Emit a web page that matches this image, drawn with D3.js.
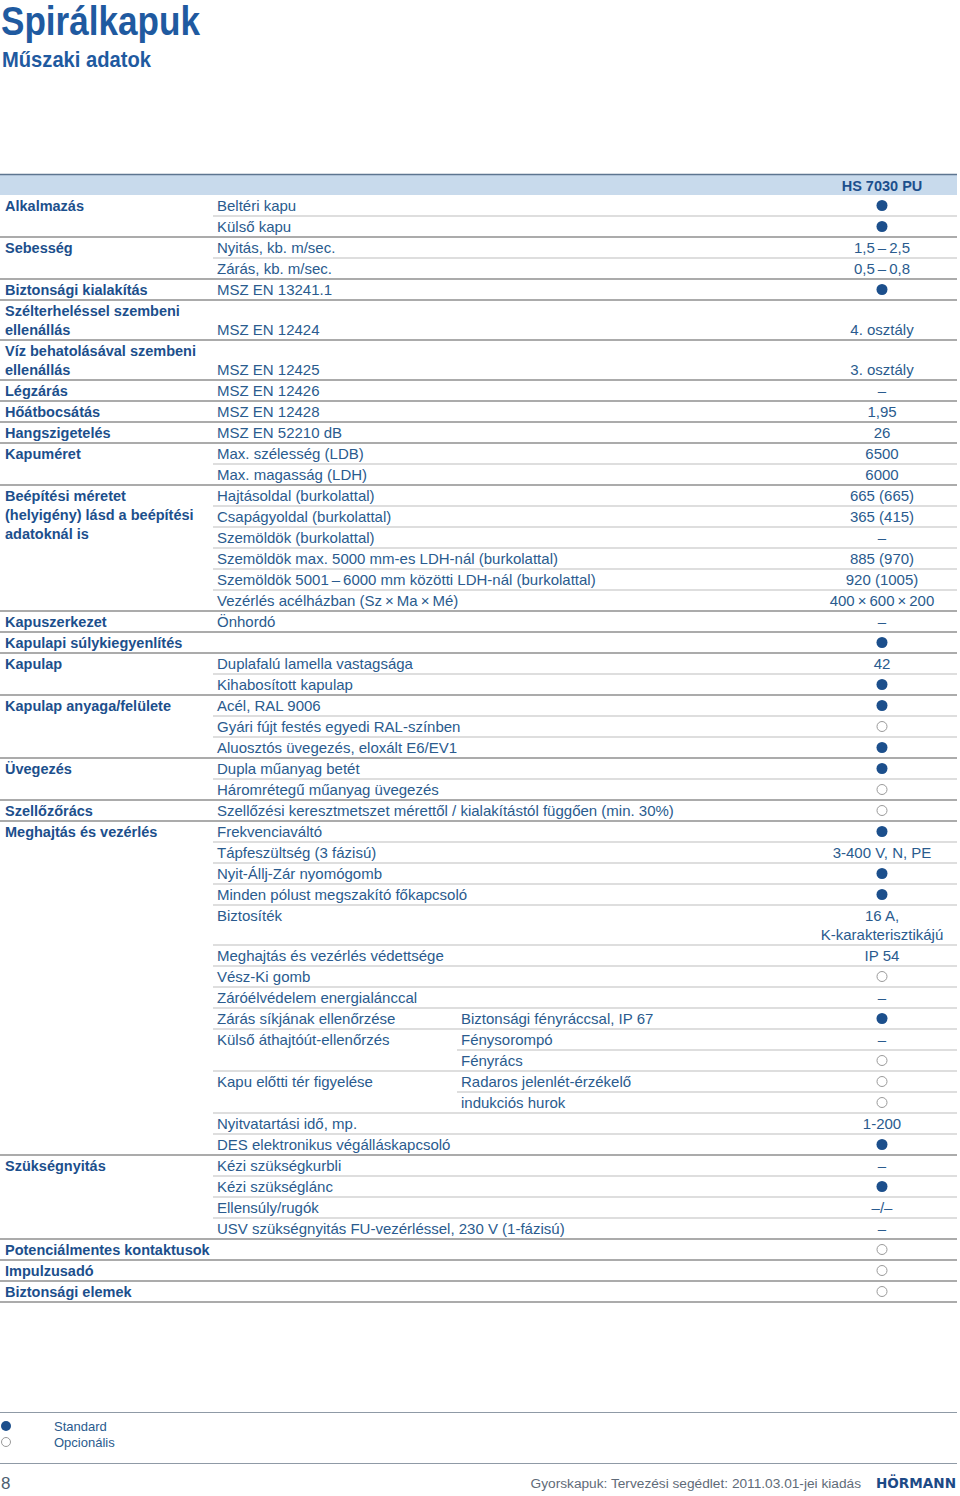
<!DOCTYPE html>
<html><head><meta charset="utf-8">
<script src="https://cdn.jsdelivr.net/npm/d3@7"></script>
<style>html,body{margin:0;padding:0;background:#fff}svg{display:block}</style>
</head><body>
<script>
// ---- data ----
const title = "Spirálkapuk";
const subtitle = "Műszaki adatok";
const productName = "HS 7030 PU";
const groups = ["Alkalmazás","","Sebesség","","Biztonsági kialakítás",
 "Szélterheléssel szembeni\nellenállás","Víz behatolásával szembeni\nellenállás",
 "Légzárás","Hőátbocsátás","Hangszigetelés","Kapuméret","",
 "Beépítési méretet\n(helyigény) lásd a beépítési\nadatoknál is","","","","","",
 "Kapuszerkezet","Kapulapi súlykiegyenlítés","Kapulap","","Kapulap anyaga/felülete","","",
 "Üvegezés","","Szellőzőrács","Meghajtás és vezérlés","","","","","","","","","","","","","","",
 "Szükségnyitás","","","","Potenciálmentes kontaktusok","Impulzusadó","Biztonsági elemek"];
const items = ["Beltéri kapu","Külső kapu","Nyitás, kb. m/sec.","Zárás, kb. m/sec.","MSZ EN 13241.1",
 "\nMSZ EN 12424","\nMSZ EN 12425","MSZ EN 12426","MSZ EN 12428","MSZ EN 52210 dB",
 "Max. szélesség (LDB)","Max. magasság (LDH)","Hajtásoldal (burkolattal)","Csapágyoldal (burkolattal)",
 "Szemöldök (burkolattal)","Szemöldök max. 5000 mm-es LDH-nál (burkolattal)",
 "Szemöldök 5001\u2009–\u20096000 mm közötti LDH-nál (burkolattal)","Vezérlés acélházban (Sz\u2009×\u2009Ma\u2009×\u2009Mé)",
 "Önhordó","","Duplafalú lamella vastagsága","Kihabosított kapulap","Acél, RAL 9006",
 "Gyári fújt festés egyedi RAL-színben","Aluosztós üvegezés, eloxált E6/EV1","Dupla műanyag betét",
 "Háromrétegű műanyag üvegezés","Szellőzési keresztmetszet mérettől / kialakítástól függően (min. 30%)",
 "Frekvenciaváltó","Tápfeszültség (3 fázisú)","Nyit-Állj-Zár nyomógomb","Minden pólust megszakító főkapcsoló",
 "Biztosíték","Meghajtás és vezérlés védettsége","Vész-Ki gomb","Záróélvédelem energialánccal",
 "Zárás síkjának ellenőrzése","Külső áthajtóút-ellenőrzés","","Kapu előtti tér figyelése","",
 "Nyitvatartási idő, mp.","DES elektronikus végálláskapcsoló","Kézi szükségkurbli","Kézi szükséglánc",
 "Ellensúly/rugók","USV szükségnyitás FU-vezérléssel, 230 V (1-fázisú)","","",""];
const subItems = ["","","","","","","","","","","","","","","","","","","","","","","","","","","","","","","","","","","","",
 "Biztonsági fényráccsal, IP 67","Fénysorompó","Fényrács","Radaros jelenlét-érzékelő","indukciós hurok",
 "","","","","","","","",""];
// S = standard (filled dot), O = optional (open dot)
const values = ["S","S","1,5\u2009–\u20092,5","0,5\u2009–\u20090,8","S","\n4. osztály","\n3. osztály","–","1,95","26",
 "6500","6000","665 (665)","365 (415)","–","885 (970)","920 (1005)","400\u2009×\u2009600\u2009×\u2009200",
 "–","S","42","S","S","O","S","S","O","O","S","3-400 V, N, PE","S","S","16 A,\nK-karakterisztikájú",
 "IP 54","O","–","S","–","O","O","O","1-200","S","–","S","–/–","–","O","O","O"];
const lineCounts = values.map((v,i)=> (i===5||i===6||i===32) ? 2 : 1);
const legendKeys = ["S","O"];
const legendLabels = ["Standard","Opcionális"];
const pageNumber = "8";
const footerText = "Gyorskapuk: Tervezési segédlet: 2011.03.01-jei kiadás";
const logoText = "HÖRMANN";

// ---- layout ----
const W = 960, H = 1496;
const blue = "#1c4f8c", textBlue = "#2a5b8e";
const FONT = "'Liberation Sans', Arial, sans-serif";
const tableTop = 195, rowH = 21, rowH2 = 40, lineStep = 19;
const col = {g: 5, item: 217, sub: 461, val: 882, itemLine: 213, subLine: 457, right: 957};
const fsReg = 15, fsBold = 14.5;

const svg = d3.select("body").append("svg").attr("width", W).attr("height", H)
  .style("font-family", FONT);
svg.append("rect").attr("width", W).attr("height", H).attr("fill", "#fff");

svg.append("text").attr("x", 1).attr("y", 35).attr("fill", "#1f5aa0")
  .attr("font-size", 40).attr("font-weight", "bold")
  .attr("textLength", 199).attr("lengthAdjust", "spacingAndGlyphs").text(title);
svg.append("text").attr("x", 2).attr("y", 67).attr("fill", "#1f5aa0")
  .attr("font-size", 22).attr("font-weight", "bold")
  .attr("textLength", 149).attr("lengthAdjust", "spacingAndGlyphs").text(subtitle);

// header band
svg.append("rect").attr("x", 0).attr("y", 175).attr("width", col.right).attr("height", 20).attr("fill", "#c8daec");
svg.append("line").attr("x1", 0).attr("x2", col.right).attr("y1", 174.5).attr("y2", 174.5)
  .attr("stroke", "#5d7590").attr("stroke-width", 1.5);
svg.append("text").attr("x", col.val).attr("y", 190.5).attr("text-anchor", "middle")
  .attr("fill", blue).attr("font-size", fsBold).attr("font-weight", "bold").text(productName);

// rows
const heights = lineCounts.map(n => n === 2 ? rowH2 : rowH);
const tops = [tableTop, ...d3.cumsum(heights).map(h => tableTop + h)];
const rows = values.map((v, i) => ({i, g: groups[i], item: items[i], sub: subItems[i], v, top: tops[i], h: heights[i]}));

const y = d3.scaleLinear().domain([0, 1]).range([0, lineStep]); // line index -> offset

const gRows = svg.append("g");
// separators
rows.forEach(r => {
  if (r.i === 0) return;
  let x1, color, sw;
  if (r.g) { x1 = 0; color = "#8f8f8f"; sw = 1.3; }
  else if (r.item) { x1 = col.itemLine; color = "#bdbdbd"; sw = 1; }
  else { x1 = col.subLine; color = "#bdbdbd"; sw = 1; }
  gRows.append("line").attr("x1", x1).attr("x2", col.right).attr("y1", r.top).attr("y2", r.top)
    .attr("stroke", color).attr("stroke-width", sw);
});
gRows.append("line").attr("x1", 0).attr("x2", col.right).attr("y1", tops[rows.length]).attr("y2", tops[rows.length])
  .attr("stroke", "#8f8f8f").attr("stroke-width", 1.3);

function multiText(sel, str, x, top, opts) {
  const t = sel.append("text").attr("x", x).attr("fill", opts.fill).attr("font-size", opts.size)
    .attr("font-weight", opts.weight || "normal").attr("text-anchor", opts.anchor || "start");
  str.split("\n").forEach((s, k) => {
    if (!s) return;
    t.append("tspan").attr("x", x).attr("y", top + 15.5 + y(k)).text(s);
  });
}

rows.forEach(r => {
  if (r.g) multiText(gRows, r.g, col.g, r.top, {fill: blue, size: fsBold, weight: "bold"});
  if (r.item) multiText(gRows, r.item, col.item, r.top, {fill: textBlue, size: fsReg});
  if (r.sub) multiText(gRows, r.sub, col.sub, r.top, {fill: textBlue, size: fsReg});
  if (r.v === "S" || r.v === "O") {
    const c = gRows.append("circle").attr("cx", col.val).attr("cy", r.top + 10.5);
    if (r.v === "S") c.attr("r", 5.5).attr("fill", blue);
    else c.attr("r", 5).attr("fill", "#fff").attr("stroke", "#9a9a9a").attr("stroke-width", 1);
  } else {
    multiText(gRows, r.v, col.val, r.top, {fill: textBlue, size: fsReg, anchor: "middle"});
  }
});

// legend
svg.append("line").attr("x1", 0).attr("x2", col.right).attr("y1", 1412.5).attr("y2", 1412.5)
  .attr("stroke", "#8f9aa6").attr("stroke-width", 1.2);
legendKeys.forEach((k, i) => {
  const cy = 1426 + i * 16;
  const c = svg.append("circle").attr("cx", 6).attr("cy", cy);
  if (k === "S") c.attr("r", 5).attr("fill", blue);
  else c.attr("r", 4.5).attr("fill", "#fff").attr("stroke", "#9a9a9a");
  svg.append("text").attr("x", 54).attr("y", cy + 4.5).attr("fill", textBlue).attr("font-size", 13).text(legendLabels[i]);
});
svg.append("line").attr("x1", 0).attr("x2", col.right).attr("y1", 1463.5).attr("y2", 1463.5)
  .attr("stroke", "#8f9aa6").attr("stroke-width", 1.2);

// footer
svg.append("text").attr("x", 1).attr("y", 1489).attr("fill", "#4d5e70").attr("font-size", 17).text(pageNumber);
svg.append("text").attr("x", 861).attr("y", 1488).attr("text-anchor", "end").attr("fill", "#5f6b78")
  .attr("font-size", 13.7).text(footerText);
svg.append("text").attr("x", 876).attr("y", 1488).attr("fill", "#1d4a86").attr("font-size", 14)
  .attr("font-weight", "bold").attr("textLength", 80).attr("lengthAdjust", "spacingAndGlyphs")
  .style("font-family", "'DejaVu Sans', sans-serif").text(logoText);
</script>
</body></html>
